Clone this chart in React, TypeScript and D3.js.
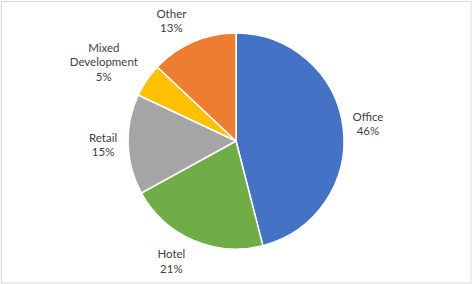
import React from "react";
import * as d3 from "d3";

const categories = ["Office", "Hotel", "Retail", "Mixed Development", "Other"];
const values = [46, 21, 15, 5, 13];
const labelLines = [["Office"], ["Hotel"], ["Retail"], ["Mixed", "Development"], ["Other"]];
const colors = ["#4472C4", "#70AD47", "#A5A5A5", "#FFC000", "#ED7D31"];

const W = 472;
const H = 284;
const cx = 236;
const cy = 141;
const R = 108;
// best-fit label nudges (layout only)
const labelNudge: [number, number][] = [
  [-2, 0],
  [-11, -3.5],
  [2, -0.5],
  [-4, 8.5],
  [-11, 4],
];

export default function App() {
  const pie = d3.pie<number>().sort(null).value((d) => d);
  const arcs = pie(values);
  const arc = d3.arc<d3.PieArcDatum<number>>().innerRadius(0).outerRadius(R);
  const lineH = 14.5;

  return (
    <svg
      width={W}
      height={H}
      style={{ position: "fixed", left: 0, top: 0, display: "block" }}
      fontFamily="Lato, 'Open Sans', sans-serif"
    >
      <rect x={0} y={0} width={W} height={H} fill="#fff" />
      <rect x={1.5} y={1.5} width={W - 2.5} height={H - 2.5} fill="none" stroke="#d9d9d9" strokeWidth={1} />
      <g transform={`translate(${cx},${cy})`}>
        {arcs.map((a, i) => (
          <path key={categories[i]} d={arc(a) || ""} fill={colors[i]} stroke="#fff" strokeWidth={1.5} />
        ))}
        {arcs.map((a, i) => {
          const mid = (a.startAngle + a.endAngle) / 2;
          const lines = [...labelLines[i], `${values[i]}%`];
          const lr = lines.length > 2 ? 155 : 135;
          const x = Math.sin(mid) * lr + labelNudge[i][0];
          const y = -Math.cos(mid) * lr + labelNudge[i][1];
          const y0 = y - ((lines.length - 1) * lineH) / 2;
          return (
            <text key={"l" + i} textAnchor="middle" fontSize={11.5} fill="#404040">
              {lines.map((t, j) => (
                <tspan key={j} x={x} y={y0 + j * lineH} dy="0.35em">
                  {t}
                </tspan>
              ))}
            </text>
          );
        })}
      </g>
    </svg>
  );
}
